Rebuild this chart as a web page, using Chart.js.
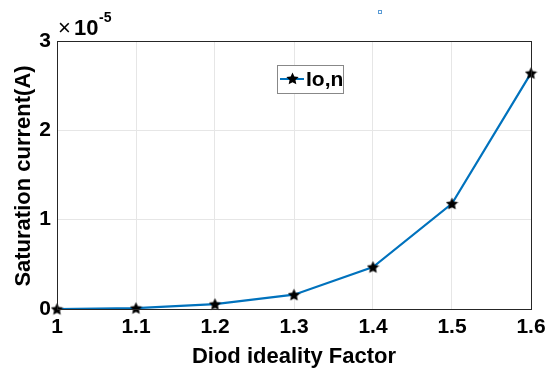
<!DOCTYPE html>
<html>
<head>
<meta charset="utf-8">
<script src="https://cdn.jsdelivr.net/npm/chart.js@4.4.0/dist/chart.umd.min.js"></script>
<style>
  html, body { margin: 0; padding: 0; background: #fff; }
  #wrap { width: 547px; height: 374px; }
</style>
</head>
<body>
<div id="wrap"><canvas id="c" width="547" height="374"></canvas></div>
<script>
// ideality factor n vs saturation current (x1e-5 A)
const idealityN = [1.0, 1.1, 1.2, 1.3, 1.4, 1.5, 1.6];
const satCurrent = [0.0, 0.01, 0.055, 0.16, 0.47, 1.18, 2.64];
const xTicks = [1, 1.1, 1.2, 1.3, 1.4, 1.5, 1.6];
const yTicks = [0, 1, 2, 3];
const yTitle = 'Saturation current(A)';

const FONT = '"Liberation Sans", Arial, sans-serif';
const BLUE = '#0072BD';

function makeStar(size) {
  const cv = document.createElement('canvas');
  cv.width = size; cv.height = size;
  const g = cv.getContext('2d');
  const cx = size / 2, cy = size / 2 + 0.6, R = size / 2, r = R * 0.48;
  g.beginPath();
  for (let i = 0; i < 10; i++) {
    const rad = i % 2 === 0 ? R : r;
    const a = -Math.PI / 2 + i * Math.PI / 5;
    g.lineTo(cx + rad * Math.cos(a), cy + rad * Math.sin(a));
  }
  g.closePath();
  g.fillStyle = '#000';
  g.fill();
  return cv;
}
const star = makeStar(13);

const extras = {
  id: 'extras',
  afterDraw(chart) {
    const { ctx, chartArea: a } = chart;
    ctx.save();
    // box
    ctx.strokeStyle = '#262626';
    ctx.lineWidth = 1;
    ctx.strokeRect(a.left + 0.5, a.top + 0.5, a.right - a.left, a.bottom - a.top);
    // y title, centred on the plot
    ctx.save();
    ctx.translate(24, (a.top + a.bottom) / 2 + 1);
    ctx.rotate(-Math.PI / 2);
    ctx.fillStyle = '#000';
    ctx.font = 'bold 22px ' + FONT;
    ctx.textAlign = 'center';
    ctx.textBaseline = 'middle';
    ctx.fillText(yTitle, 0, 0);
    ctx.restore();
    // exponent label
    ctx.fillStyle = '#000';
    ctx.textBaseline = 'alphabetic';
    ctx.textAlign = 'left';
    ctx.font = '22px ' + FONT;
    ctx.fillText('\u00d7', 58, 35);
    ctx.font = 'bold 22px ' + FONT;
    ctx.fillText('10', 74, 35);
    ctx.font = 'bold 14px ' + FONT;
    ctx.fillText('-5', 99, 22);
    // legend
    const lx = 277, ly = 65, lw = 66, lh = 28;
    ctx.fillStyle = '#fff';
    ctx.fillRect(lx, ly, lw, lh);
    ctx.strokeStyle = '#888';
    ctx.strokeRect(lx + 0.5, ly + 0.5, lw, lh);
    ctx.strokeStyle = BLUE;
    ctx.lineWidth = 2;
    ctx.beginPath();
    ctx.moveTo(lx + 3, ly + 14);
    ctx.lineTo(lx + 27, ly + 14);
    ctx.stroke();
    ctx.drawImage(star, lx + 15 - 6, ly + 14 - 7);
    ctx.fillStyle = '#000';
    ctx.font = 'bold 21px ' + FONT;
    ctx.textBaseline = 'middle';
    ctx.fillText('Io,n', lx + 29, ly + 15);
    // small artifact square
    ctx.strokeStyle = '#5a9bd5';
    ctx.lineWidth = 1;
    ctx.strokeRect(378.5, 10.5, 3, 3);
    ctx.restore();
  }
};

new Chart(document.getElementById('c'), {
  type: 'line',
  data: {
    datasets: [{
      label: 'Io,n',
      data: idealityN.map((x, i) => ({ x, y: satCurrent[i] })),
      borderColor: BLUE,
      borderWidth: 2.2,
      pointStyle: star,
      pointRadius: 6,
      fill: false,
      tension: 0,
      clip: false
    }]
  },
  options: {
    responsive: false,
    animation: false,
    layout: { padding: { top: 41, right: 16, left: 0, bottom: 0 } },
    plugins: { legend: { display: false }, tooltip: { enabled: false } },
    scales: {
      x: {
        type: 'linear',
        min: 1, max: 1.6,
        afterBuildTicks: (s) => { s.ticks = xTicks.map(v => ({ value: v })); },
        afterFit: (s) => { s.height = 65; s.paddingLeft = 0; s.paddingRight = 0; },
        grid: { color: '#e6e6e6', drawTicks: false },
        border: { display: false },
        ticks: {
          color: '#000', padding: 6,
          font: { family: FONT, size: 21, weight: 'bold' },
          maxRotation: 0,
          callback: (v) => String(Math.round(v * 10) / 10)
        },
        title: {
          display: true, text: 'Diod ideality Factor', color: '#000',
          font: { family: FONT, size: 22, weight: 'bold' }, padding: { top: 1 }
        }
      },
      y: {
        min: 0, max: 3,
        afterBuildTicks: (s) => { s.ticks = yTicks.map(v => ({ value: v })); },
        afterFit: (s) => { s.width = 57; },
        grid: { color: '#e6e6e6', drawTicks: false },
        border: { display: false },
        ticks: {
          color: '#000', padding: 6,
          font: { family: FONT, size: 21, weight: 'bold' }
        }
      }
    }
  },
  plugins: [extras]
});
</script>
</body>
</html>
